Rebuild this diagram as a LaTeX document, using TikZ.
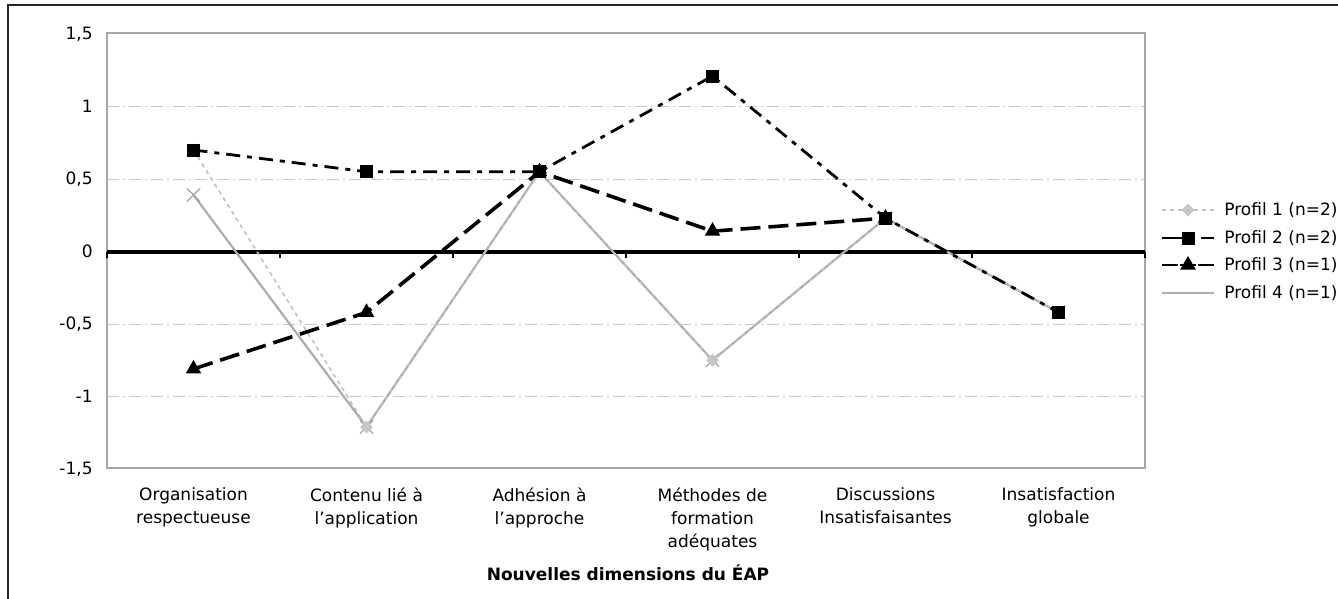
\documentclass[tikz,border=0pt]{standalone}
\usepackage{fontspec}
\setmainfont{DejaVu Sans}
\usepackage{xcolor}
\usetikzlibrary{shapes.geometric,shapes.misc}

\tikzset{
  lab/.style={font=\fontsize{8.5}{11.5}\selectfont, inner sep=0pt},
  gridln/.style={gray!45, line width=0.5pt, dash pattern=on 6pt off 2pt on 1pt off 2pt},
  profone/.style={gray!50, line width=0.8pt, dash pattern=on 2pt off 2pt},
  proftwo/.style={black, line width=1.4pt, dash pattern=on 7pt off 3.5pt on 2.5pt off 3.5pt},
  profthree/.style={black, line width=1.8pt, dash pattern=on 10pt off 4pt},
  proffour/.style={gray!65, line width=1.1pt},
  diam/.style={diamond, fill=gray!45, inner sep=0pt, minimum size=6.5pt},
  sqmk/.style={rectangle, fill=black, inner sep=0pt, minimum size=6.5pt},
  trimk/.style={regular polygon, regular polygon sides=3, fill=black, inner sep=0pt, minimum size=9pt},
  xmk/.style={cross out, draw=gray!70, line width=0.6pt, inner sep=0pt, minimum size=6pt},
}

\begin{document}
\begin{tikzpicture}[x=0.5pt, y=-0.5pt]
\useasboundingbox (0,0) rectangle (1338,599);

% outer frame and plot area
\draw[gray!30!black, line width=1pt] (1338,5) -- (8,5) -- (8,599);
\draw[gray!70, line width=0.7pt] (107,33) rectangle (1145,468);

\begin{scope}[shift={(0,251.5)}, y=72.5pt]
% grid
\draw[gridln] (107,1) -- (1145,1);
\draw[gridln] (107,0.5) -- (1145,0.5);
\draw[gridln] (107,-0.5) -- (1145,-0.5);
\draw[gridln] (107,-1) -- (1145,-1);
\draw[black, line width=2pt] (107,0) -- (1145,0);
\foreach \k in {0,...,6}
  \draw[black, line width=1pt] (107+173*\k,0) -- ++(0,-0.045);

% y labels
\foreach \v/\t [count=\i] in {1.5/{1,5},1/1,0.5/{0,5},0/0,-0.5/{-0,5},-1/-1,-1.5/{-1,5}}
  \node[lab, anchor=east] (yl\i) at (93,\v) {\t};

% data points
\foreach \v [count=\i] in {0.70,-1.21,0.55,-0.75,0.23,-0.42}
  \coordinate (pa\i) at (20.5+173*\i,\v);
\foreach \v [count=\i] in {0.70,0.55,0.55,1.21,0.23,-0.42}
  \coordinate (pb\i) at (20.5+173*\i,\v);
\foreach \v [count=\i] in {-0.81,-0.42,0.55,0.14,0.23}
  \coordinate (pc\i) at (20.5+173*\i,\v);
\foreach \v [count=\i] in {0.39,-1.21,0.55,-0.75,0.23,-0.42}
  \coordinate (pd\i) at (20.5+173*\i,\v);
\end{scope}

% profil 4
\draw[proffour] (pd1) -- (pd2) -- (pd3) -- (pd4) -- (pd5) -- (pd6);
\foreach \i in {1,...,6}
  \node[xmk] (md\i) at (pd\i) {};
% profil 1
\draw[profone] (pa1) -- (pa2) -- (pa3) -- (pa4) -- (pa5) -- (pa6);
\foreach \i in {1,...,6}
  \node[diam] (ma\i) at (pa\i) {};
% profil 3
\draw[profthree] (pc1) -- (pc2) -- (pc3) -- (pc4) -- (pc5);
\foreach \i in {1,...,5}
  \node[trimk] (mc\i) at (pc\i) {};
% profil 2
\draw[proftwo] (pb1) -- (pb2) -- (pb3) -- (pb4) -- (pb5) -- (pb6);
\foreach \i in {1,...,6}
  \node[sqmk] (mb\i) at (pb\i) {};

% category labels
\node[lab, anchor=north, align=center] (cat1) at (193.5,487) {Organisation\\respectueuse};
\node[lab, anchor=north, align=center] (cat2) at (366.5,487) {Contenu lié à\\l'application};
\node[lab, anchor=north, align=center] (cat3) at (539.5,487) {Adhésion à\\l'approche};
\node[lab, anchor=north, align=center] (cat4) at (712.5,487) {Méthodes de\\formation\\adéquates};
\node[lab, anchor=north, align=center] (cat5) at (885.5,487) {Discussions\\Insatisfaisantes};
\node[lab, anchor=north, align=center] (cat6) at (1058.5,487) {Insatisfaction\\globale};
\node[lab, font=\fontsize{8.5}{11.5}\selectfont\bfseries] (xtitle) at (628,573) {Nouvelles dimensions du ÉAP};

% legend
\coordinate (la) at (1162,210);  \coordinate (lae) at (1214,210);
\coordinate (lb) at (1162,238);  \coordinate (lbe) at (1214,238);
\coordinate (lc) at (1162,265);  \coordinate (lce) at (1214,265);
\coordinate (ld) at (1162,293);  \coordinate (lde) at (1214,293);
\draw[profone] (la) -- (lae);
\node[diam] (lma) at (1188,210) {};
\draw[proftwo, dash pattern=on 12pt off 2pt on 2.5pt off 3pt] (lb) -- (lbe);
\node[sqmk] (lmb) at (1188,238) {};
\draw[profthree, line width=1.2pt, dash pattern=on 8pt off 1pt] (lc) -- (lce);
\node[trimk] (lmc) at (1188,265) {};
\draw[proffour, line width=0.8pt] (ld) -- (lde);
\node[lab, anchor=west] (ta) at (1224,210) {Profil 1 (n=2)};
\node[lab, anchor=west] (tb) at (1224,238) {Profil 2 (n=2)};
\node[lab, anchor=west] (tc) at (1224,265) {Profil 3 (n=1)};
\node[lab, anchor=west] (td) at (1224,293) {Profil 4 (n=1)};
\end{tikzpicture}
\end{document}
